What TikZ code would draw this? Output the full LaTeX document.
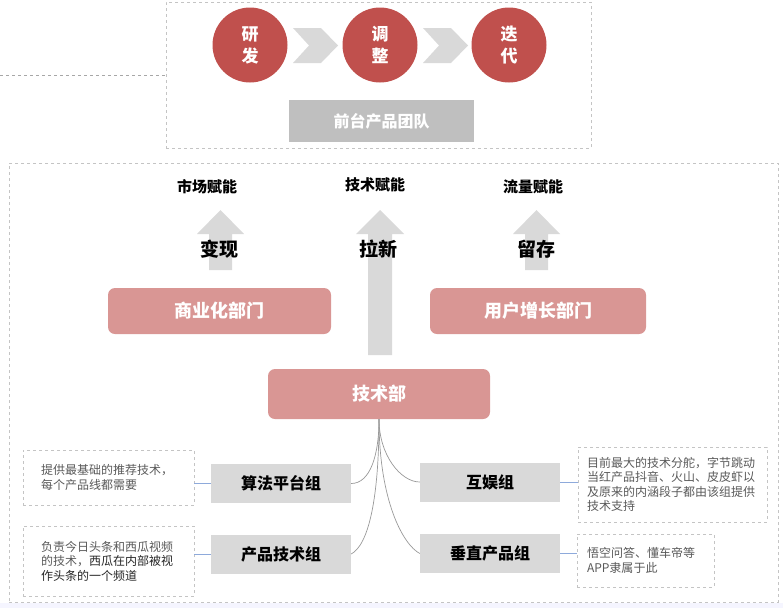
\documentclass[tikz,border=0pt]{standalone}
\usepackage{fontspec}
\setmainfont{Noto Sans CJK SC}
\usepackage{tikz}
\usetikzlibrary{positioning}

\definecolor{circred}{HTML}{C0504D}
\definecolor{pinkbox}{HTML}{D99694}
\definecolor{lightgray}{HTML}{D9D9D9}
\definecolor{midgray}{HTML}{BFBFBF}
\definecolor{dashgray}{HTML}{C4C4C4}
\definecolor{linkblue}{HTML}{8EAADB}
\definecolor{notegray}{HTML}{595959}

\begin{document}
\begin{tikzpicture}[x=1pt, y=-1pt,
	frame box/.style={draw=dashgray, dashed, line width=0.8pt, inner sep=0pt},
	step circle/.style={circle, fill=circred, text=white, minimum size=75pt, inner sep=0pt,
		align=center, font=\bfseries\fontsize{17}{22}\selectfont},
	team box/.style={fill=midgray, text=white, minimum width=185pt, minimum height=42pt,
		font=\bfseries\fontsize{16}{18}\selectfont},
	dept box/.style={fill=pinkbox, text=white, rounded corners=7pt, minimum height=46pt,
		font=\bfseries\fontsize{18}{20}\selectfont},
	group box/.style={fill=lightgray, minimum width=140pt, minimum height=39pt,
		font=\bfseries\fontsize{16}{18}\selectfont},
	note box/.style={draw=dashgray, dashed, line width=0.8pt, align=left, text=notegray,
		font=\fontsize{12}{14.5}\selectfont},
	top label/.style={font=\bfseries\fontsize{15}{17}\selectfont},
	arrow label/.style={font=\bfseries\fontsize{19}{21}\selectfont},
	block arrow/.style={fill=lightgray},
	chevron/.style={fill=lightgray},
	tree line/.style={draw=gray!80, line width=0.7pt},
	note link/.style={draw=linkblue, line width=0.9pt}]
	
	\useasboundingbox (0,0) rectangle (783,608);
	\fill[blue!4] (0,603) rectangle (783,608);
	
	% front team frame
	\node[frame box, minimum width=425pt, minimum height=146pt] (front) at (378.5,75) {};
	\coordinate (leftend) at (0,75);
	\draw[dashgray!85!black, dashed, line width=0.6pt] (leftend) -- (front.west);
	
	\node[step circle] (yf) at (250,45) {研\\发};
	\node[step circle] (tz) at (380,45) {调\\整};
	\node[step circle] (dd) at (509,45) {迭\\代};
	
	\fill[chevron] (293,28) -- (321,28) -- (338,45.5) -- (321,63) -- (293,63) -- (309,45.5) -- cycle;
	\fill[chevron] (423,28) -- (451,28) -- (468,45.5) -- (451,63) -- (423,63) -- (439,45.5) -- cycle;
	
	\node[team box] (team) at (381.5,121) {前台产品团队};
	
	% main frame
	\node[frame box, minimum width=769pt, minimum height=439pt] (main) at (393.5,382.5) {};
	
	\node[top label] (sc) at (207,187) {市场赋能};
	\node[top label] (js) at (375,185) {技术赋能};
	\node[top label] (ll) at (533,187) {流量赋能};
	
	\fill[block arrow] (209,270) -- (209,234) -- (197,234) -- (220.5,210) -- (244,234) -- (232,234) -- (232,270) -- cycle;
	\fill[block arrow] (368,355) -- (368,234) -- (356,234) -- (380,210) -- (404,234) -- (392,234) -- (392,355) -- cycle;
	\fill[block arrow] (525,270) -- (525,234) -- (513,234) -- (536.5,210) -- (560,234) -- (548,234) -- (548,270) -- cycle;
	
	\node[arrow label] (bx) at (219,249) {变现};
	\node[arrow label] (lx) at (378,249) {拉新};
	\node[arrow label] (lc) at (536,249) {留存};
	
	\node[dept box, minimum width=223pt] (syh) at (219.5,311) {商业化部门};
	\node[dept box, minimum width=216pt] (yhzz) at (538,311) {用户增长部门};
	\node[dept box, minimum width=222pt, minimum height=50pt] (jsb) at (379,394) {技术部};
	
	\node[group box] (sf) at (281,483.5) {算法平台组};
	\node[group box] (cp) at (281,554) {产品技术组};
	\node[group box] (hy) at (490,482) {互娱组};
	\node[group box] (cz) at (490,553.5) {垂直产品组};
	
	\node[note box, text width=135pt, inner xsep=18pt, minimum height=55pt] (n1) at (108.5,477.5)
		{提供最基础的推荐技术，\\每个产品线都需要};
	\node[note box, text width=135pt, inner xsep=18pt, minimum height=70pt] (n2) at (108.5,561)
		{负责今日头条和西瓜视频\\的技术，\textcolor{black!85}{西瓜在内部被视}\\\textcolor{black!85}{作头条的一个频道}};
	\node[note box, text width=171pt, inner xsep=9pt, minimum height=75pt] (n3) at (672.5,484.5)
		{目前最大的技术分舵，字节跳动\\当红产品抖音、火山、皮皮虾以\\及原来的内涵段子都由该组提供\\技术支持};
	\node[note box, text width=117pt, inner xsep=10pt, minimum height=53pt] (n4) at (645.5,560.5)
		{悟空问答、懂车帝等\\APP隶属于此};
	
	% tree from the tech department
	\draw[tree line] (jsb.south) .. controls +(0,36) and +(19,0) .. (sf.east);
	\draw[tree line] (jsb.south) .. controls +(0,81) and +(17,-9) .. (cp.east);
	\draw[tree line] (jsb.south) .. controls +(0,36) and +(-19,0) .. (hy.west);
	\draw[tree line] (jsb.south) .. controls +(0,81) and +(-17,-9) .. (cz.west);
	
	\path[note link]
	(sf.west) edge (sf.west -| n1.east)
	(cp.west) edge (cp.west -| n2.east)
	(hy.east) edge (hy.east -| n3.west)
	(cz.east) edge (cz.east -| n4.west);
\end{tikzpicture}
\end{document}
